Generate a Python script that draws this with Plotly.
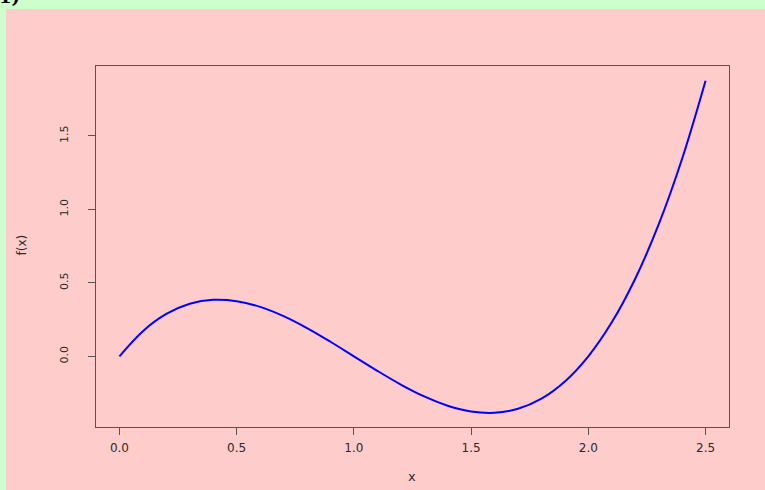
import plotly.graph_objects as go

x_vals = [0.0, 0.1, 0.2, 0.3, 0.4, 0.5, 0.6, 0.7, 0.8, 0.9, 1.0, 1.1, 1.2,
          1.3, 1.4, 1.5, 1.6, 1.7, 1.8, 1.9, 2.0, 2.1, 2.2, 2.3, 2.4, 2.5]
fx_vals = [0.0, 0.171, 0.288, 0.357, 0.384, 0.375, 0.336, 0.273, 0.192, 0.099,
           0.0, -0.099, -0.192, -0.273, -0.336, -0.375, -0.384, -0.357, -0.288,
           -0.171, 0.0, 0.231, 0.528, 0.897, 1.344, 1.875]
x_ticks = [0.0, 0.5, 1.0, 1.5, 2.0, 2.5]
y_ticks = [0.0, 0.5, 1.0, 1.5]

W, H = 765, 490
L, R, T, B = 96, 36, 66, 63
pw, ph = W - L - R, H - T - B

def px(xp):
    return (xp - L) / pw

def py(yp):
    return (H - B - yp) / ph

fig = go.Figure()
fig.add_trace(go.Scatter(x=x_vals, y=fx_vals, mode="lines",
                         line=dict(color="#0000FF", width=2, shape="spline"),
                         hoverinfo="skip"))

axis_common = dict(showgrid=False, zeroline=False, showline=True, mirror=True,
                   linecolor="#555555", linewidth=1, ticks="outside",
                   ticklen=7, tickcolor="#555555", tickwidth=1,
                   automargin=False, tickformat=".1f")

fig.update_layout(
    width=W, height=H,
    margin=dict(l=L, r=R, t=T, b=B, pad=0, autoexpand=False),
    paper_bgcolor="#CCFFCC",
    plot_bgcolor="#FFCCCC",
    showlegend=False,
    xaxis=dict(range=[-0.1, 2.6], tickvals=x_ticks, ticklabelstandoff=3,
               tickfont=dict(family="DejaVu Sans", size=12, color="#2a2a2a"),
               **axis_common),
    yaxis=dict(range=[-0.481, 1.975], tickvals=y_ticks, tickangle=-90,
               ticklabelstandoff=16,
               tickfont=dict(family="DejaVu Sans", size=11, color="#2a2a2a"),
               **axis_common),
    shapes=[dict(type="rect", xref="paper", yref="paper", layer="below",
                 x0=px(6), x1=px(W + 5), y0=py(H + 5), y1=py(9),
                 fillcolor="#FFCCCC", line=dict(width=0))],
    annotations=[
        dict(text="<b>1)</b>", xref="paper", yref="paper",
             x=px(-3), y=py(9), xanchor="left", yanchor="bottom",
             showarrow=False,
             font=dict(family="DejaVu Serif", size=18, color="black")),
        dict(text="x", xref="paper", yref="paper",
             x=px(412), y=py(476), xanchor="center", yanchor="middle",
             showarrow=False,
             font=dict(family="DejaVu Sans", size=13, color="#2a2a2a")),
        dict(text="f(x)", xref="paper", yref="paper", textangle=-90,
             x=px(21.5), y=py(245), xanchor="center", yanchor="middle",
             showarrow=False,
             font=dict(family="DejaVu Sans", size=12, color="#2a2a2a")),
    ],
)

fig.write_html("out.html")
